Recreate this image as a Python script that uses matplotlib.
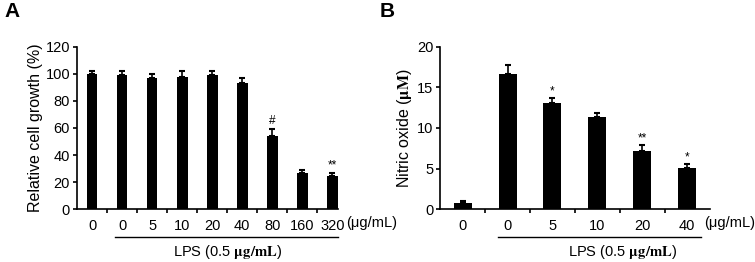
import numpy as np
import matplotlib
matplotlib.use("Agg")
import matplotlib.pyplot as plt
import matplotlib.transforms as mtransforms

plt.rcParams['font.family'] = ['Liberation Sans', 'DejaVu Sans']
plt.rcParams['mathtext.fontset'] = 'stix'

# panel A data
a_labels = ['0', '0', '5', '10', '20', '40', '80', '160', '320']
a_values = [100, 99, 97, 98, 99, 93, 54, 27, 24.5]
a_errors = [2.5, 3, 3, 4, 3, 4, 5.5, 2, 2]
a_marks = ['', '', '', '', '', '', '#', '', '**']

# panel B data
b_labels = ['0', '0', '5', '10', '20', '40']
b_values = [0.7, 16.6, 13.1, 11.3, 7.2, 5.1]
b_errors = [0.3, 1.2, 0.6, 0.5, 0.7, 0.4]
b_marks = ['', '', '*', '', '**', '*']

W, H = 755, 262
fig = plt.figure(figsize=(W / 100, H / 100), dpi=100)


def panel(rect, labels, values, errors, marks, width, xmax, ymax, ystep,
          ylabel, lps_span, lps_x, unit_x, letter, letter_x, mark_off):
    ax = fig.add_axes(rect)
    x = np.arange(len(values))
    ax.bar(x, values, width=width, color='black', zorder=2)
    ax.errorbar(x, values, yerr=[np.zeros(len(errors)), errors], fmt='none',
                ecolor='black', elinewidth=1.2, capsize=2.5, capthick=1.5, zorder=3)
    for xi, v, e, m in zip(x, values, errors, marks):
        if m:
            ax.text(xi, v + e + mark_off, m, ha='center', va='bottom', fontsize=8.5)
    ax.set_xlim(-0.5, xmax)
    ax.set_ylim(0, ymax)
    ax.set_yticks(np.arange(0, ymax + 1, ystep))
    ax.set_xticks(x, labels)
    ax.set_xticks(np.arange(0.5, len(values) - 1, 1), minor=True)
    ax.tick_params(axis='x', which='major', length=0, pad=7, labelsize=10.5)
    ax.tick_params(axis='x', which='minor', length=3, width=1.2, direction='out')
    ax.tick_params(axis='y', length=3, width=1.2, labelsize=10.5, pad=2)
    for s in ['top', 'right']:
        ax.spines[s].set_visible(False)
    for s in ['left', 'bottom']:
        ax.spines[s].set_linewidth(1.2)
    ax.set_ylabel(ylabel, fontsize=11.5, labelpad=2)
    trans = mtransforms.blended_transform_factory(ax.transData, ax.transAxes)
    ax.plot(lps_span, [-0.173, -0.173], color='black', lw=1, transform=trans, clip_on=False)
    ax.text(lps_x, -0.265, r'LPS (0.5 $\mathbf{\mu g/mL}$)', ha='center', va='center',
            fontsize=10.5, transform=trans)
    ax.text(unit_x, -0.087, '(μg/mL)', ha='left', va='center', fontsize=10.5, transform=trans)
    fig.text(letter_x, 0.955, letter, fontsize=15, fontweight='bold', ha='left', va='center')
    return ax


panel([0.102, 0.202, 0.346, 0.619], a_labels, a_values, a_errors, a_marks, 0.36, 8.2,
      120, 20, 'Relative cell growth (%)', [0.75, 8.2], 4.5, 8.45, 'A', 0.006, 1)
panel([0.583, 0.202, 0.357, 0.619], b_labels, b_values, b_errors, b_marks, 0.4, 5.5,
      20, 5, r'Nitric oxide ($\mathbf{\mu M}$)', [0.78, 5.3], 3.55, 5.38, 'B', 0.503, 0.1)

fig.savefig('out.png', dpi=100)
